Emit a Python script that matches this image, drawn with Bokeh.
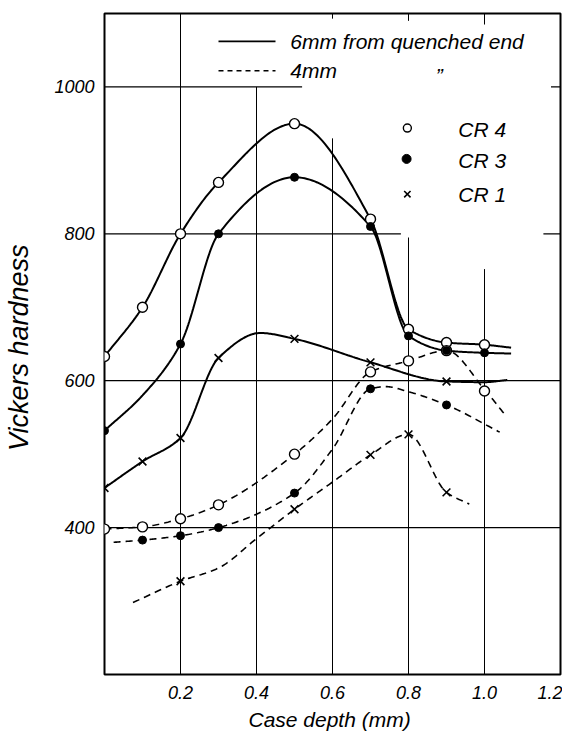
import numpy as np
from bokeh.plotting import figure
from bokeh.models import Range1d, FixedTicker, Label, CustomJSTickFormatter
from bokeh.embed import file_html
from bokeh.resources import INLINE

# ---------------- data ----------------
# 6 mm from quenched end (solid curves)
cr4_6_x = [0.0, 0.1, 0.2, 0.3, 0.5, 0.7, 0.8, 0.9, 1.0]
cr4_6_y = [633, 700, 800, 870, 950, 820, 670, 652, 649]
cr3_6_x = [0.0, 0.2, 0.3, 0.5, 0.7, 0.8, 0.9, 1.0]
cr3_6_y = [532, 650, 800, 877, 810, 661, 641, 638]
cr1_6_x = [0.0, 0.1, 0.2, 0.3, 0.5, 0.7, 0.9]
cr1_6_y = [454, 490, 522, 631, 657, 625, 599]

# 4 mm from quenched end (dashed curves)
cr4_4_x = [0.0, 0.1, 0.2, 0.3, 0.5, 0.7, 0.8, 0.9, 1.0]
cr4_4_y = [398, 401, 412, 431, 500, 612, 627, 641, 586]
cr3_4_x = [0.1, 0.2, 0.3, 0.5, 0.7, 0.9]
cr3_4_y = [383, 389, 400, 447, 589, 567]
cr1_4_x = [0.2, 0.5, 0.7, 0.8, 0.9]
cr1_4_y = [327, 425, 499, 527, 448]

# hand-drawn curve paths (knots the pen passed through)
curve_cr4_6_x = [0.0, 0.1, 0.2, 0.3, 0.5, 0.7, 0.8, 0.9, 1.0, 1.07]
curve_cr4_6_y = [633, 700, 800, 870, 950, 820, 670, 652, 649, 645]
curve_cr3_6_x = [0.0, 0.1, 0.2, 0.3, 0.5, 0.7, 0.8, 0.9, 1.0, 1.07]
curve_cr3_6_y = [532, 580, 650, 800, 877, 810, 661, 641, 638, 637]
curve_cr1_6_x = [0.0, 0.1, 0.2, 0.3, 0.41, 0.5, 0.7, 0.9, 1.0, 1.06]
curve_cr1_6_y = [454, 490, 522, 631, 665, 657, 625, 599, 598, 601]
curve_cr4_4_x = [0.0, 0.1, 0.2, 0.3, 0.5, 0.6, 0.7, 0.8, 0.9, 1.0, 1.055]
curve_cr4_4_y = [398, 401, 412, 431, 500, 548, 612, 627, 641, 588, 553]
curve_cr3_4_x = [0.024, 0.1, 0.2, 0.3, 0.5, 0.6, 0.7, 0.74, 0.8, 0.9, 1.04]
curve_cr3_4_y = [380, 383, 389, 400, 447, 507, 589, 592, 585, 567, 530]
curve_cr1_4_x = [0.075, 0.2, 0.3, 0.4, 0.5, 0.6, 0.7, 0.8, 0.9, 0.96]
curve_cr1_4_y = [298, 327, 345, 385, 425, 462, 499, 527, 448, 432]

x_ticks = [0.2, 0.4, 0.6, 0.8, 1.0, 1.2]
y_ticks = [400, 600, 800, 1000]

# hand-ruled grid (partial lines as on the original sheet): (x, y_from, y_to)
grid_v = [(0.2, 200, 1100), (0.4, 200, 1000), (0.6, 200, 930), (0.8, 200, 795), (1.0, 200, 752),
          (0.6, 1100, 1093), (0.8, 1100, 1090), (1.0, 1100, 1085)]
# (y, x_from, x_to)
grid_h = [(400, 0.0, 1.2), (600, 0.0, 1.2), (800, 0.0, 0.78), (800, 1.155, 1.2),
          (1000, 0.0, 0.52), (1000, 1.175, 1.2)]

FONT = "Liberation Sans"


def smooth(xk, yk, n=30):
    """Monotone cubic (PCHIP) path through the traced knots."""
    x = np.asarray(xk, float)
    y = np.asarray(yk, float)
    h = np.diff(x)
    d = np.diff(y) / h
    m = np.zeros_like(x)
    m[0], m[-1] = d[0], d[-1]
    for k in range(1, len(x) - 1):
        if d[k - 1] * d[k] <= 0:
            m[k] = 0.0
        else:
            w1 = 2 * h[k] + h[k - 1]
            w2 = h[k] + 2 * h[k - 1]
            m[k] = (w1 + w2) / (w1 / d[k - 1] + w2 / d[k])
    xs, ys = [], []
    for k in range(len(x) - 1):
        t = np.linspace(0, 1, n, endpoint=(k == len(x) - 2))
        h00 = 2 * t**3 - 3 * t**2 + 1
        h10 = t**3 - 2 * t**2 + t
        h01 = -2 * t**3 + 3 * t**2
        h11 = t**3 - t**2
        xs.extend(x[k] + t * h[k])
        ys.extend(h00 * y[k] + h10 * h[k] * m[k] + h01 * y[k + 1] + h11 * h[k] * m[k + 1])
    return xs, ys


p = figure(width=562, height=733, x_range=Range1d(0, 1.2), y_range=Range1d(200, 1100),
           output_backend="svg", toolbar_location=None,
           min_border_left=104, min_border_right=2, min_border_top=13, min_border_bottom=58)
p.xgrid.visible = False
p.ygrid.visible = False
p.outline_line_color = "black"
p.outline_line_width = 2
p.background_fill_color = "white"
p.border_fill_color = "white"

for ax in (p.xaxis[0], p.yaxis[0]):
    ax.axis_line_color = None
    ax.major_tick_line_color = None
    ax.minor_tick_line_color = None
    ax.major_label_text_font = FONT
    ax.major_label_text_font_style = "italic"
    ax.major_label_text_color = "black"
    ax.major_label_text_font_size = "18px"
    ax.axis_label_text_font = FONT
    ax.axis_label_text_font_style = "italic"
    ax.axis_label_text_color = "black"

p.xaxis.ticker = FixedTicker(ticks=x_ticks)
p.xaxis.formatter = CustomJSTickFormatter(code="return tick.toFixed(1);")
p.xaxis.major_label_standoff = 5
p.xaxis.axis_label = "Case depth  (mm)"
p.xaxis.axis_label_text_font_size = "21px"
p.xaxis.axis_label_standoff = 6

p.yaxis.ticker = FixedTicker(ticks=y_ticks)
p.yaxis.major_label_standoff = 4
p.yaxis.axis_label = "Vickers  hardness"
p.yaxis.axis_label_text_font_size = "27px"
p.yaxis.axis_label_standoff = 17

# grid
for gx, y0, y1 in grid_v:
    p.segment(x0=[gx], y0=[y0], x1=[gx], y1=[y1], line_color="black", line_width=1)
for gy, x0, x1 in grid_h:
    p.segment(x0=[x0], y0=[gy], x1=[x1], y1=[gy], line_color="black", line_width=1.2)

# curves
for cx, cy in [(curve_cr4_6_x, curve_cr4_6_y), (curve_cr3_6_x, curve_cr3_6_y),
               (curve_cr1_6_x, curve_cr1_6_y)]:
    sx, sy = smooth(cx, cy)
    p.line(sx, sy, line_color="black", line_width=2)
for cx, cy in [(curve_cr4_4_x, curve_cr4_4_y), (curve_cr3_4_x, curve_cr3_4_y),
               (curve_cr1_4_x, curve_cr1_4_y)]:
    sx, sy = smooth(cx, cy)
    p.line(sx, sy, line_color="black", line_width=1.6, line_dash="7 5")

# markers
for mx, my in [(cr4_6_x, cr4_6_y), (cr4_4_x, cr4_4_y)]:
    p.scatter(mx, my, marker="circle", size=10, fill_color="white", line_color="black", line_width=1.4)
for mx, my in [(cr3_6_x, cr3_6_y), (cr3_4_x, cr3_4_y)]:
    p.scatter(mx, my, marker="circle", size=8, fill_color="black", line_color="black")
for mx, my in [(cr1_6_x, cr1_6_y), (cr1_4_x, cr1_4_y)]:
    p.scatter(mx, my, marker="x", size=11, line_color="black", line_width=1.6)

# legend (hand-lettered)
p.line([0.30, 0.45], [1062, 1062], line_color="black", line_width=1.6)
p.line([0.30, 0.45], [1022, 1022], line_color="black", line_width=1.4, line_dash="5 4")
p.add_layout(Label(x=0.489, y=1062, text="6mm  from  quenched  end", text_font=FONT,
                   text_font_style="italic", text_font_size="21px", text_baseline="middle",
                   text_color="black"))
p.add_layout(Label(x=0.489, y=1022, text="4mm", text_font=FONT,
                   text_font_style="italic", text_font_size="21px", text_baseline="middle",
                   text_color="black"))
p.add_layout(Label(x=0.872, y=1016, text="\u201d", text_font=FONT,
                   text_font_style="italic", text_font_size="21px", text_baseline="middle",
                   text_color="black"))

p.scatter([0.797], [944], marker="circle", size=8, fill_color="white", line_color="black", line_width=1.4)
p.scatter([0.795], [902], marker="circle", size=9, fill_color="black", line_color="black")
p.scatter([0.797], [854], marker="x", size=9, line_color="black", line_width=1.6)
for ty, tt in [(942, "CR 4"), (900, "CR 3"), (854, "CR 1")]:
    p.add_layout(Label(x=0.931, y=ty, text=tt, text_font=FONT, text_font_style="italic",
                       text_font_size="21px", text_baseline="middle", text_color="black"))

open("out.html", "w").write(file_html(p, INLINE))
